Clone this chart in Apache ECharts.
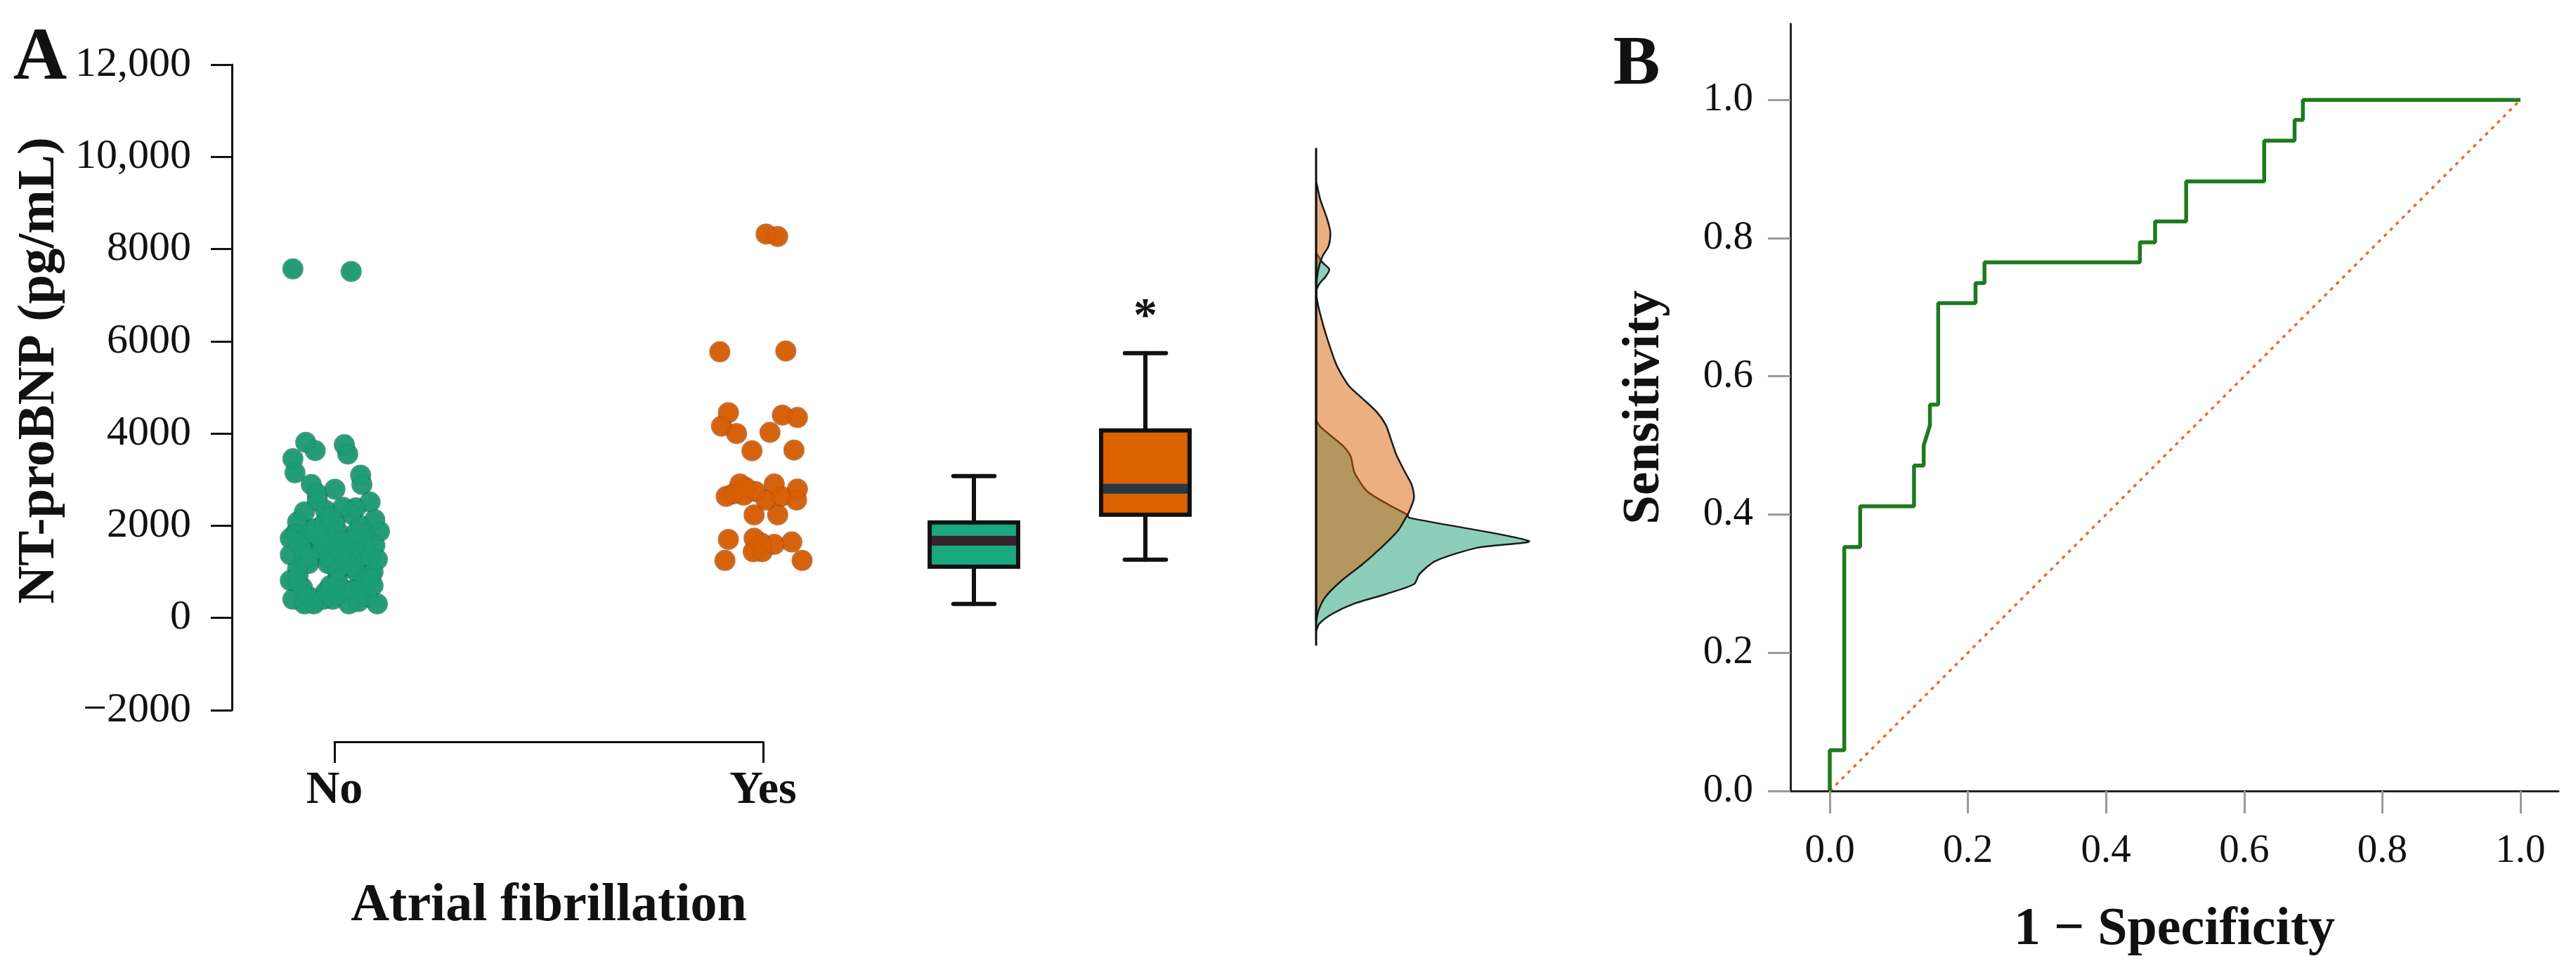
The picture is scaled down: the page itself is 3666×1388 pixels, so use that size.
<!DOCTYPE html>
<html>
<head>
<meta charset="utf-8">
<title>NT-proBNP and atrial fibrillation</title>
<script src="https://cdn.jsdelivr.net/npm/echarts@6/dist/echarts.min.js"></script>
<style>
    html, body { margin: 0; padding: 0; background: #fff; }
    #chart { width: 3666px; height: 1388px; }
</style>
</head>
<body>
<div id="chart"></div>
<script>
    // ---- panel A : scatter (jittered x on a 1 = No, 2 = Yes axis) ----
    var noX = [0.903, 1.039, 0.933, 0.955, 0.903, 0.908, 1.023, 1.031, 1.061, 1.064, 0.946, 0.960,
        1.001, 1.083, 1.050, 1.094, 1.105, 0.914, 0.908, 0.979, 1.001, 1.007, 0.952, 0.897,
        0.925, 0.968, 1.007, 1.050, 1.083, 1.100, 0.914, 0.985, 1.023, 1.050, 0.914, 1.007,
        0.903, 0.941, 0.974, 1.023, 1.067, 1.078, 1.100, 1.056, 0.952, 0.930, 0.979, 1.018,
        0.941, 1.007, 1.034, 1.072, 1.061, 0.914, 0.996, 1.034, 0.941, 0.974, 1.034, 0.990,
        0.930, 0.968, 1.018, 1.072, 0.897, 1.094, 1.083, 1.045, 1.007, 0.925, 0.897, 0.979,
        0.930, 1.040, 0.990, 1.060, 0.960, 1.050, 0.940, 1.040, 0.985, 1.090, 0.915, 1.060,
        0.990, 1.090, 0.960, 1.020];
    var noY = [7570, 7515, 3808, 3630, 3452, 3148, 3757, 3554, 3097, 2894, 2894, 2691,
        2792, 2513, 2386, 2132, 1878, 2082, 1828, 2335, 2082, 1878, 1930, 1371,
        1523, 1675, 1523, 1625, 1320, 1269, 1066, 1320, 1218, 1016, 761, 812,
        406, 457, 406, 609, 761, 457, 305, 355, 305, 305, 1828, 1675,
        1320, 1016, 1421, 1828, 1320, 1625, 406, 305, 1828, 2030, 1675, 1625,
        1371, 1473, 1371, 1523, 1726, 1574, 863, 609, 507, 660, 812, 559,
        2300, 2250, 2200, 2000, 1760, 1850, 1180, 1100, 1180, 1000, 920, 600,
        700, 700, 2550, 2400];
    var yesX = [2.007, 2.034, 1.899, 2.053, 1.919, 1.903, 1.938, 2.045, 2.080, 2.016, 1.974, 2.072,
        1.946, 1.914, 1.982, 2.026, 2.042, 2.080, 2.078, 1.979, 2.034, 1.919, 1.979, 1.977,
        2.026, 2.067, 1.911, 2.091, 1.998, 1.930, 1.960, 1.996, 1.955, 2.007];
    var yesY = [8326, 8273, 5772, 5789, 4453, 4159, 3999, 4400, 4347, 4025, 3625, 3641,
        2904, 2636, 2743, 2904, 2636, 2796, 2557, 2236, 2236, 1703, 1729, 1435,
        1595, 1648, 1247, 1247, 1435, 2690, 2824, 1622, 2665, 2557];

    var naTickValues = [-2000, 0, 2000, 4000, 6000, 8000, 10000, 12000];
    var naTickLabels = ['\u22122000', '0', '2000', '4000', '6000', '8000', '10,000', '12,000'];
    var groupLabels = ['No', 'Yes'];

    // ---- panel A : box plots ----
    var boxMin = [305, 1264];
    var boxQ1 = [1112, 2239];
    var boxMedian = [1675, 2802];
    var boxQ3 = [2071, 4067];
    var boxMax = [3077, 5742];
    var boxStar = ['', '*'];

    // ---- panel A : half-violin densities (value, width) ----
    var densNoValue = [7885, 7706, 7562, 7418, 7239, 7059, 4327, 4149, 3716, 3501, 3250, 3106, 2746,
        2460, 2243, 2172, 1669, 1525, 1237, 950, 734, 518, 303, 87, -128, -272];
    var densNoWidth = [0, 9.3, 18.7, 14.3, 4.3, 0, 0, 6, 39.3, 49.3, 52.7, 56, 72.7,
        102.7, 129.3, 132.7, 302.7, 230, 170, 147, 139.3, 99.3, 52.7, 22.7, 4.3, 0];
    var densYesValue = [9430, 9071, 8640, 8352, 8065, 7850, 7634, 7347, 7060, 6843, 6484, 6053, 5478,
        5046, 4759, 4472, 4184, 3896, 3537, 3177, 2890, 2603, 2315, 2172, 1884, 1525, 1165, 806, 446, 158, -56];
    var densYesWidth = [0, 6, 16, 20.3, 17.7, 9.3, 4.3, 1, 0.3, 2, 7.7, 16, 29.3,
        46, 66, 86, 99.3, 106, 114.3, 126, 136, 139.3, 132.7, 127.7, 116, 92.7, 66, 36, 12.7, 3.3, 0];
    var densBaseline = [10190, -600];

    // ---- panel B : ROC ----
    var rocFpr = [0, 0, 0.021, 0.021, 0.044, 0.044, 0.122, 0.122, 0.136, 0.136, 0.145, 0.145, 0.157, 0.157,
        0.211, 0.211, 0.224, 0.224, 0.449, 0.449, 0.471, 0.471, 0.516, 0.516, 0.629, 0.629, 0.673, 0.673,
        0.685, 0.685, 1.0];
    var rocTpr = [0, 0.059, 0.059, 0.353, 0.353, 0.412, 0.412, 0.471, 0.471, 0.5, 0.529, 0.559, 0.559, 0.706,
        0.706, 0.735, 0.735, 0.765, 0.765, 0.794, 0.794, 0.824, 0.824, 0.882, 0.882, 0.941, 0.941, 0.971,
        0.971, 1.0, 1.0];
    var refLine = [0, 1];
    var rocTicks = [0, 0.2, 0.4, 0.6, 0.8, 1.0];

    var GREEN = '#1B9E77', ORANGE = '#D95F02';
    var BOX_FILL = ['#1aa87f', '#dc6200'];
    var BOX_MEDIAN = ['#35212a', '#263844'];
    var SERIF = '"Liberation Serif", "Times New Roman", serif';

    var chart = echarts.init(document.getElementById('chart'));

    function pairs(xs, ys) {
        return xs.map(function (x, i) { return [x, ys[i]]; });
    }

    function renderBox(params, api) {
        var i = api.value(0);
        var c = function (v) { return api.coord([i, v]); };
        var band = api.size([1, 0])[0];
        var hb = band * 0.258, hc = band * 0.12;
        var pMin = c(api.value(1)), pQ1 = c(api.value(2)), pMed = c(api.value(3)),
            pQ3 = c(api.value(4)), pMax = c(api.value(5));
        var cx = pMed[0];
        var ls = { stroke: '#111', lineWidth: 6, lineCap: 'round' };
        var kids = [
            { type: 'line', shape: { x1: cx, y1: pMax[1], x2: cx, y2: pQ3[1] }, style: ls },
            { type: 'line', shape: { x1: cx, y1: pQ1[1], x2: cx, y2: pMin[1] }, style: ls },
            { type: 'line', shape: { x1: cx - hc, y1: pMax[1], x2: cx + hc, y2: pMax[1] }, style: ls },
            { type: 'line', shape: { x1: cx - hc, y1: pMin[1], x2: cx + hc, y2: pMin[1] }, style: ls },
            {
                type: 'rect', shape: { x: cx - hb, y: pQ3[1], width: hb * 2, height: pQ1[1] - pQ3[1] },
                style: { fill: BOX_FILL[i], stroke: '#111', lineWidth: 6 }
            },
            {
                type: 'rect', shape: { x: cx - hb + 3, y: pMed[1] - 7, width: hb * 2 - 6, height: 14 },
                style: { fill: BOX_MEDIAN[i] }
            }
        ];
        if (boxStar[i]) {
            kids.push({
                type: 'text',
                style: {
                    text: boxStar[i], x: cx, y: pMax[1] - 50, align: 'center', verticalAlign: 'middle',
                    fontSize: 68, fontWeight: 'bold', fontFamily: SERIF, fill: '#111'
                }
            });
        }
        return { type: 'group', children: kids };
    }

    function renderDensity(values, widths, fill) {
        return function (params, api) {
            var pts = values.map(function (v, i) { return api.coord([widths[i], v]); });
            var x0 = api.coord([0, 0])[0];
            return {
                type: 'polygon',
                shape: { points: pts, smooth: 0.25, smoothConstraint: [[x0, -10000], [10000, 10000]] },
                style: { fill: fill, stroke: '#1a1a1a', lineWidth: 2.5 }
            };
        };
    }

    var option = {
        backgroundColor: '#fff',
        animation: false,
        textStyle: { fontFamily: SERIF, color: '#111' },
        graphic: [
            { type: 'text', style: { text: 'A', x: 57, y: 85, align: 'center', verticalAlign: 'middle',
                fontSize: 106, fontWeight: 'bold', fontFamily: SERIF, fill: '#111' } },
            { type: 'text', style: { text: 'B', x: 2329, y: 93, align: 'center', verticalAlign: 'middle',
                fontSize: 100, fontWeight: 'bold', fontFamily: SERIF, fill: '#111' } }
        ],
        grid: [
            { left: 476, top: 92, width: 610, height: 919 },   // scatter
            { left: 1264, top: 92, width: 488, height: 919 },  // boxes
            { left: 1873, top: 92, width: 330, height: 919 },  // densities
            { left: 2548, top: 34, width: 1093, height: 1092 } // ROC
        ],
        xAxis: [
            {
                gridIndex: 0, type: 'value', min: 1, max: 2, interval: 1, offset: 45,
                axisLine: { onZero: false, lineStyle: { color: '#111', width: 3 } },
                axisTick: { length: 30, lineStyle: { color: '#111', width: 3 } },
                axisLabel: {
                    margin: 37, fontSize: 66, fontWeight: 'bold', fontFamily: SERIF, color: '#111',
                    formatter: function (v) { return groupLabels[Math.round(v) - 1]; }
                },
                splitLine: { show: false },
                name: 'Atrial fibrillation', nameLocation: 'middle', nameGap: 196,
                nameTextStyle: { fontSize: 76, fontWeight: 'bold', fontFamily: SERIF, color: '#111' }
            },
            { gridIndex: 1, type: 'category', data: groupLabels, show: false },
            { gridIndex: 2, type: 'value', min: 0, max: 330, show: false },
            {
                gridIndex: 3, type: 'value', min: -0.057, max: 1.055,
                axisLine: { onZero: false, lineStyle: { color: '#222', width: 3 } },
                axisTick: { customValues: rocTicks, length: 32, lineStyle: { color: '#9a9a9a', width: 3 } },
                axisLabel: {
                    customValues: rocTicks, margin: 58, fontSize: 57, fontFamily: SERIF, color: '#111',
                    formatter: function (v) { return v.toFixed(1); }
                },
                splitLine: { show: false },
                name: '1 \u2212 Specificity', nameLocation: 'middle', nameGap: 160,
                nameTextStyle: { fontSize: 76, fontWeight: 'bold', fontFamily: SERIF, color: '#111' }
            }
        ],
        yAxis: [
            {
                gridIndex: 0, type: 'value', min: -2000, max: 12000, interval: 2000, offset: 146,
                axisLine: { show: true, onZero: false, lineStyle: { color: '#111', width: 3 } },
                axisTick: { show: true, length: 30, lineStyle: { color: '#111', width: 3 } },
                axisLabel: {
                    margin: 58, fontSize: 60, fontFamily: SERIF, color: '#111',
                    formatter: function (v) {
                        var k = naTickValues.indexOf(v);
                        return k >= 0 ? naTickLabels[k] : '';
                    }
                },
                splitLine: { show: false },
                name: 'NT-proBNP (pg/mL)', nameLocation: 'middle', nameRotate: 90, nameGap: 236,
                nameTextStyle: { fontSize: 75, fontWeight: 'bold', fontFamily: SERIF, color: '#111',
                    padding: [0, 0, 0, 48] }
            },
            { gridIndex: 1, type: 'value', min: -2000, max: 12000, show: false },
            { gridIndex: 2, type: 'value', min: -2000, max: 12000, show: false },
            {
                gridIndex: 3, type: 'value', min: 0, max: 1.11,
                axisLine: { show: true, onZero: false, lineStyle: { color: '#222', width: 3 } },
                axisTick: { show: true, customValues: rocTicks, length: 32, lineStyle: { color: '#9a9a9a', width: 3 } },
                axisLabel: {
                    customValues: rocTicks, margin: 53, fontSize: 57, fontFamily: SERIF, color: '#111',
                    formatter: function (v) { return v.toFixed(1); }
                },
                splitLine: { show: false },
                name: 'Sensitivity', nameLocation: 'middle', nameRotate: 90, nameGap: 170,
                nameTextStyle: { fontSize: 75, fontWeight: 'bold', fontFamily: SERIF, color: '#111' }
            }
        ],
        series: [
            // dark halo under the dots so touching dots merge into one outlined blob
            { type: 'scatter', xAxisIndex: 0, yAxisIndex: 0, clip: false, symbolSize: 30, silent: true,
                itemStyle: { color: '#14805f' }, data: pairs(noX, noY) },
            { type: 'scatter', xAxisIndex: 0, yAxisIndex: 0, clip: false, symbolSize: 30, silent: true,
                itemStyle: { color: '#b84a00' }, data: pairs(yesX, yesY) },
            { type: 'scatter', xAxisIndex: 0, yAxisIndex: 0, clip: false, symbolSize: 25, silent: true,
                itemStyle: { color: GREEN }, data: pairs(noX, noY) },
            { type: 'scatter', xAxisIndex: 0, yAxisIndex: 0, clip: false, symbolSize: 25, silent: true,
                itemStyle: { color: ORANGE }, data: pairs(yesX, yesY) },
            {
                type: 'custom', xAxisIndex: 1, yAxisIndex: 1, renderItem: renderBox,
                encode: { x: 0, y: [1, 2, 3, 4, 5] },
                data: groupLabels.map(function (g, i) {
                    return [i, boxMin[i], boxQ1[i], boxMedian[i], boxQ3[i], boxMax[i]];
                })
            },
            {
                type: 'custom', xAxisIndex: 2, yAxisIndex: 2, z: 2,
                renderItem: renderDensity(densNoValue, densNoWidth, 'rgba(27,158,119,0.5)'),
                data: [[0, 0]]
            },
            {
                type: 'custom', xAxisIndex: 2, yAxisIndex: 2, z: 3,
                renderItem: renderDensity(densYesValue, densYesWidth, 'rgba(217,95,2,0.5)'),
                data: [[0, 0]]
            },
            {
                type: 'line', xAxisIndex: 2, yAxisIndex: 2, z: 4, showSymbol: false, silent: true,
                lineStyle: { color: '#111', width: 3 },
                data: densBaseline.map(function (v) { return [0, v]; })
            },
            {
                type: 'line', xAxisIndex: 3, yAxisIndex: 3, showSymbol: false, silent: true,
                lineStyle: { color: '#f2692a', width: 3.5, type: [5, 7] },
                data: pairs(refLine, refLine)
            },
            {
                type: 'line', xAxisIndex: 3, yAxisIndex: 3, showSymbol: false, silent: true, z: 3,
                lineStyle: { color: '#1f7a1f', width: 5.5 },
                data: pairs(rocFpr, rocTpr)
            }
        ]
    };

    chart.setOption(option);
</script>
</body>
</html>
